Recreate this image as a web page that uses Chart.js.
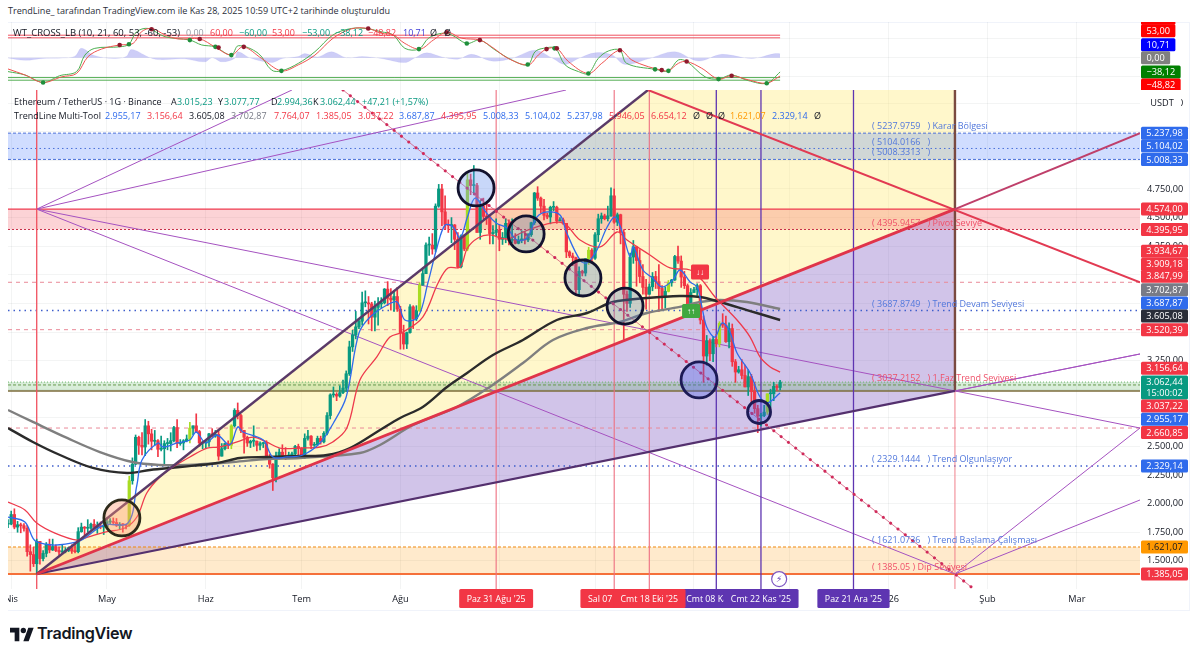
<!DOCTYPE html>
<html>
<head>
<meta charset="utf-8">
<title>ETH / USDT</title>
<script src="https://cdn.jsdelivr.net/npm/chart.js@4"></script>
<style>
    html, body { margin: 0; background: #fff; width: 1199px; height: 658px; overflow: hidden; }
    body { font-family: "Open Sans", sans-serif; color: #131722; }
    #oscChart, #priceChart { position: absolute; left: 8px; }
    #oscChart { top: 22px; }
    #priceChart { top: 90px; }
    .row { position: absolute; font-size: 9px; white-space: nowrap; line-height: 12px; }
    .row span { position: absolute; top: 0; }
    #title { left: 8px; top: 5px; font-size: 9.05px; color: #2a2e39; }
    #paneEdge { position: absolute; left: 8px; top: 22px; width: 1182px; height: 589px; border: solid #f0f3fa; border-width: 1px 1px 1px 0; box-sizing: border-box; }
    #logo { position: absolute; left: 10px; top: 625px; }
    #brand { position: absolute; left: 37px; top: 623px; font-family: Inter, sans-serif; font-size: 16.2px; font-weight: 600; color: #131722; letter-spacing: -0.3px; }
</style>
</head>
<body>
<div id="paneEdge"></div>
<canvas id="oscChart" width="1182" height="68"></canvas>
<canvas id="priceChart" width="1182" height="521"></canvas>
<div class="row" id="title">TrendLine_ tarafından TradingView.com ile Kas 28, 2025 10:59 UTC+2 tarihinde oluşturuldu</div>
<div class="row" id="oscLegend" style="top:27px;left:0"></div>
<div class="row" id="symbolLegend" style="top:96px;left:0"></div>
<div class="row" id="toolLegend" style="top:110px;left:0"></div>
<svg id="logo" width="24" height="19" viewBox="0 0 36 28"><path d="M14 24H7V11H0V4h14v20zM28 24h-8l7.5-20h8L28 24z" fill="#131722"/><circle cx="20" cy="8" r="4" fill="#131722"/></svg>
<div id="brand">TradingView</div>
<script>
// day number = days since 1 Jan 2025
const firstCandleDay = 89;
const candleOpen = [1820,
    1822,1905,1795,1816,1807,1785,1580,1555,1475,1670,1520,1565,1645,1595,1625,1590,1578,1585,1590,1615,1585,1580,1755,1795,1785,1785,1820,1795,1800,1795,
    1795,1840,1840,1835,1810,1820,1815,1810,2200,2345,2580,2510,2495,2680,2610,2545,2550,2475,2480,2525,2525,2550,2665,2525,2530,2550,2565,2660,2680,2630,2530,
    2530,2540,2610,2590,2605,2415,2480,2525,2510,2680,2815,2770,2640,2580,2530,2545,2545,2510,2525,2525,2410,2345,2225,2410,2450,2420,2410,2425,2435,2500,
    2485,2405,2570,2590,2510,2515,2570,2540,2615,2770,2950,2955,2940,2970,3010,3135,3370,3475,3545,3595,3755,3755,3745,3630,3715,3745,3755,3875,3795,3780,3810,
    3700,3490,3395,3495,3720,3615,3685,3910,4010,4260,4260,4225,4600,4750,4550,4440,4430,4435,4310,4070,4340,4225,4830,4780,4780,4370,4600,4510,4505,4360,4370,
    4390,4310,4325,4450,4300,4310,4275,4305,4310,4305,4350,4455,4715,4670,4600,4520,4505,4590,4590,4470,4480,4450,4200,4165,4150,3870,4030,4015,4140,4215,
    4145,4350,4490,4515,4490,4515,4690,4460,4525,4370,3830,3750,4155,4245,4125,3985,3890,3830,3895,3985,3940,3880,3810,3855,3930,3955,4160,4120,3980,3905,3705,
    3845,3870,3905,3605,3290,3425,3310,3435,3400,3575,3560,3415,3530,3240,3150,3170,3120,3020,3110,2980,2830,2765,2770,2800,2960,2960,3025,3015.23];
const candleHigh = [1860,
    1935,1955,1845,1830,1825,1810,1640,1620,1690,1670,1590,1660,1690,1690,1640,1620,1640,1615,1620,1640,1660,1790,1830,1800,1860,1830,1860,1840,1840,1835,
    1875,1870,1875,1870,1835,1825,1815,2240,2400,2600,2590,2620,2735,2720,2650,2640,2560,2590,2550,2570,2620,2675,2735,2560,2560,2600,2710,2680,2785,2640,2540,
    2550,2615,2655,2640,2640,2525,2530,2550,2690,2830,2880,2780,2640,2590,2555,2680,2550,2540,2535,2550,2430,2350,2450,2480,2515,2490,2450,2450,2510,2520,
    2490,2610,2640,2595,2535,2590,2590,2630,2795,2960,3020,2970,3030,3080,3160,3420,3515,3680,3610,3850,3860,3810,3760,3770,3800,3800,3880,3940,3880,3860,3890,
    3725,3560,3500,3740,3730,3730,3930,4060,4280,4330,4360,4620,4790,4790,4690,4480,4500,4440,4370,4350,4350,4890,4880,4955,4800,4650,4670,4630,4520,4430,4490,
    4440,4370,4490,4480,4490,4360,4340,4385,4380,4360,4460,4720,4770,4680,4660,4540,4600,4640,4600,4500,4495,4450,4210,4190,4155,4070,4040,4140,4240,4230,
    4370,4530,4540,4530,4600,4760,4750,4540,4530,4395,3860,4190,4300,4250,4220,4090,3960,3920,4020,4030,4090,3905,3895,3950,3960,4170,4250,4165,4030,3920,3880,
    3890,3920,3915,3640,3470,3440,3460,3480,3590,3660,3640,3580,3570,3260,3200,3260,3210,3170,3130,3060,2860,2790,2860,2960,3000,3060,3040,3077.77];
const candleLow = [1790,
    1815,1780,1750,1745,1760,1540,1410,1450,1385,1470,1500,1535,1570,1590,1580,1550,1570,1570,1580,1565,1570,1570,1750,1725,1750,1775,1790,1740,1780,1730,
    1790,1825,1815,1800,1780,1750,1780,1800,2170,2340,2430,2425,2420,2520,2470,2510,2410,2460,2340,2470,2460,2540,2490,2510,2470,2540,2530,2600,2620,2500,2480,
    2485,2500,2580,2580,2380,2415,2470,2480,2480,2670,2740,2620,2440,2500,2490,2500,2460,2470,2490,2400,2310,2115,2190,2390,2400,2385,2400,2415,2420,2420,
    2400,2395,2555,2480,2500,2510,2520,2530,2600,2740,2930,2900,2930,2960,2980,3120,3330,3440,3530,3560,3720,3570,3510,3510,3560,3710,3745,3730,3690,3680,3680,
    3350,3350,3355,3490,3530,3600,3680,3910,4010,4170,4180,4200,4590,4430,4400,4370,4280,4220,4060,4060,4210,4210,4700,4700,4370,4310,4490,4440,4270,4270,4340,
    4210,4265,4280,4260,4280,4270,4270,4280,4270,4290,4335,4440,4650,4540,4480,4490,4445,4560,4450,4470,4440,4150,4150,4080,3830,3820,3990,3990,4090,4110,
    4135,4290,4450,4480,4470,4510,4450,4430,4270,3435,3680,3715,4100,3900,3930,3830,3700,3830,3860,3880,3680,3700,3710,3850,3900,3950,4100,3890,3880,3680,3680,
    3845,3820,3570,3060,3210,3250,3240,3370,3370,3540,3410,3360,3200,3060,3140,3090,3020,2945,2880,2790,2620,2680,2760,2780,2840,2900,2990,2994.36];
const candleClose = [1822,
    1905,1795,1816,1807,1785,1580,1555,1475,1670,1520,1565,1645,1595,1625,1590,1578,1585,1590,1615,1585,1580,1755,1795,1785,1785,1820,1795,1800,1795,1795,
    1840,1840,1835,1810,1820,1815,1810,2200,2345,2580,2510,2495,2680,2610,2545,2550,2475,2480,2525,2525,2550,2665,2525,2530,2550,2565,2660,2680,2630,2530,2530,
    2540,2610,2590,2605,2415,2480,2525,2510,2680,2815,2770,2640,2580,2530,2545,2545,2510,2525,2525,2410,2345,2225,2410,2450,2420,2410,2425,2435,2500,2485,
    2405,2570,2590,2510,2515,2570,2540,2615,2770,2950,2955,2940,2970,3010,3135,3370,3475,3545,3595,3755,3755,3745,3630,3715,3745,3755,3875,3795,3780,3810,3700,
    3490,3395,3495,3720,3615,3685,3910,4010,4260,4260,4225,4600,4750,4550,4440,4430,4435,4310,4070,4340,4225,4830,4780,4780,4370,4600,4510,4505,4360,4370,4390,
    4310,4325,4450,4300,4310,4275,4305,4310,4305,4350,4455,4715,4670,4600,4520,4505,4590,4590,4470,4480,4450,4200,4165,4150,3870,4030,4015,4140,4215,4145,
    4350,4490,4515,4490,4515,4690,4460,4525,4370,3830,3750,4155,4245,4125,3985,3890,3830,3895,3985,3940,3880,3810,3855,3930,3955,4160,4120,3980,3905,3705,3845,
    3870,3905,3605,3290,3425,3310,3435,3400,3575,3560,3415,3530,3240,3150,3170,3120,3020,3110,2980,2830,2765,2770,2800,2960,2960,3025,3015,3062.44];
const limeCandleDays = [127, 146, 159, 218, 233, 271, 296, 312, 327];

const blueDays = [89,94.3,98,110.6,119,126.6,129.4,131,136,137.6,142,146,148,151,154.5,158.5,161,162.6,169,172,176.4,181.4,186.8,191,195,199,202.5,207.8,211,213.4,217.5,220.6,223.5,226,228.5,230.7,233,235.4,239,242,245.4,248.5,251.7,254.8,258,262,264,268.3,270.5,273.6,276.8,279.3,281.5,284,285,288,291,294,297.4,299.6,302.8,305,306.5,308,310.6,312.8,315,317.5,321.6,324.7,327,331];
const bluePrices = [1883,1840,1665,1665,1813,1831,2163,2381,2530,2495,2530,2556,2626,2530,2600,2513,2670,2626,2556,2408,2408,2425,2530,2705,2932,3491,3631,3736,3762,3605,3631,3928,4243,4435,4418,4322,4505,4671,4540,4453,4409,4304,4322,4505,4549,4523,4374,4129,4103,4217,4418,4505,4374,4156,4243,4042,3972,3893,3955,4042,3937,3893,3719,3544,3456,3579,3518,3317,3142,2932,2880,2967];
const redMaDays = [89,94.3,98,103.7,110.6,114,119.4,125.6,129.4,132.5,136.6,140.7,146,151.4,155.4,160.8,165.8,170,174.2,180.5,186.8,190.8,195.2,199.3,204.6,208.7,212.8,219,223.8,226.9,230.7,233,236.3,240,245.4,250.4,256.7,263,268.3,274.6,279.9,283,290.2,296.5,302.8,306.5,310.6,317.5,321.6,324.7,327.9,331];
const redMaPrices = [2014,1945,1831,1743,1682,1708,1752,1787,1883,2093,2233,2320,2408,2486,2495,2539,2582,2539,2486,2486,2495,2539,2661,3081,3282,3456,3500,3631,3928,4060,4068,4234,4322,4348,4313,4374,4435,4453,4304,4243,4374,4304,4173,4060,4042,3955,3806,3605,3456,3282,3194,3150];
const blackMaDays = [89,96.8,105.3,115.6,126.3,133.5,142.9,154.5,161.7,170.2,180.5,189,196.2,205.6,211.9,219,226.6,232.9,241,250.4,261,270.5,278.6,289.3,299.6,305.9,312.2,320.6,331];
const blackMaPrices = [2661,2539,2425,2312,2268,2294,2320,2355,2399,2408,2416,2425,2486,2644,2749,2845,3020,3142,3299,3430,3605,3666,3762,3797,3815,3806,3762,3692,3605];
const grayMaDays = [89,96.8,107.5,117.8,128,136.6,145,159.5,170.2,180.5,199.3,205.6,216,229.7,240,250.4,259.8,270.5,280.8,289.3,299.6,305.9,312.2,320.6,331];
const grayMaPrices = [2818,2714,2574,2451,2364,2338,2338,2364,2390,2399,2443,2513,2687,2845,3020,3229,3430,3535,3588,3666,3719,3762,3780,3762,3701];

const wtSlowDays = [89,94.3,100,105.8,110.5,114.1,118.3,124,128.2,130.8,134,138.2,142.3,149.1,153.8,159,162.7,168.5,174.7,180,185.2,190.9,196.7,201.9,206,209.7,213.4,218.1,222.3,226.5,231.2,236.9,240.6,245.8,252.1,255.2,257.8,261,264.6,270.9,275.1,280.8,284.5,289.7,293.9,296,299.1,301.7,306.4,311.7,315.8,321,326.8,331];
const wtSlowValues = [-30,-46,-66,-51,-42,3,23,34,38,69,78,61,50,50,29,7,29,-2,-35,-19,7,52,77,78,65,61,38,23,47,68,52,47,29,-2,-19,7,23,25,-10,-42,-15,20,-6,-24,-33,-35,-15,-10,-28,-57,-48,-59,-68,-48.82];
const wtFastDays = [89,94.3,100,105.2,110.5,113.1,116.2,124,126.9,129.3,132.9,138.2,146,149.7,153.8,159,161.2,167.4,171.6,174.7,180,185.2,190.9,196.7,201.9,206,209.7,213.4,217.8,220.8,224.9,228,232.8,236.9,241.6,246.9,251.9,254.2,256.8,260.5,263.6,267.8,270.9,274,277.2,280.8,282.9,291.8,296,299.1,301.7,307.5,311.7,315.8,321,326.8,331];
const wtFastValues = [-37,-46,-66,-48,-37,7,25,29,36,69,78,56,47,34,29,7,32,12,-33,-35,-15,16,61,78,77,69,61,25,23,52,65,61,38,47,21,-6,-19,16,25,25,-19,-37,-42,-2,18,20,-15,-31,-35,-6,-10,-51,-57,-46,-61,-68,-38.12];
const histDays = [89,94.3,100,106,110,112,116,122,126,127.7,133,136,143,144.4,150.7,153,156,160,161,165,171.6,175,180,182,186,190.4,195,200,206,213.4,216.6,220.2,225,230,234.3,240.6,246.9,254.2,259.4,263.6,267.8,273,278.2,282.4,289.7,298,305.4,312.7,322.1,329.4,331];
const histValues = [-1,-7,-2,-1,4,25,6,-2,3,22,2,-5,-3,-3,-11,0,-11,-2,16,-1,-13,-2,3,11,2,16,0,3,-2,-13,0,13,2,-4,9,-9,-2,20,0,-18,-2,13,8,-18,-3,16,-9,9,-2,11,10.71];
const oscLevels = [60, 53, -53, -60];
const crossUpDays = [100,126.9,146,154,159,174.7,217.8,232.8,251.9,260.3,270.9,291.8,296,311.7,326.8];
const crossUpValues = [-66,36,47,29,7,-35,23,38,-18,25,-42,-31,-35,-57,-68];
const crossDownDays = [124,134,149.1,155,162.9,201.9,226.5,236.9,257.8,261,280.8,293.9,301.7,315.8];
const crossDownValues = [34,76,50,27,29,78,68,47,23,25,20,-33,-10,-48];

// tick labels
const monthDays = [90,120,151,181,212,243,273,304,334,365,396,424];
const monthLabels = ["Nis","May","Haz","Tem","Ağu","Eyl","Eki","Kas","Ara","2026","Şub","Mar"];
const priceTicks = [5500,5250,5000,4750,4500,4250,4000,3750,3500,3250,3000,2750,2500,2250,2000,1750,1500];
const oscTicks = [-50,0,50];

// drawing tool levels
const blueZone = [5237.98, 5104.02, 5008.33];
const pivotZone = [4574, 4395.95];
const dashedLevels = [3934.67, 3520.39, 2660.85];
const dottedLevels = [3687.87, 2329.14];
const baseLevel = 2985;
const lastPrice = 3062.44;
const phaseLevel = 3037.22;
const dipLevel = 1385.05;
const startLevel = 1621.07;

const xLeft = 89, xRight = 443.8, yTop = 5615, yBottom = 1254;
const dipDay = 98, pivotDay = 385.8, topTouchDay = 289.6;

const redTimeDays = [242, 279, 290];
const purpleTimeDays = [311, 325, 354];
const dateTagDays = [242, 311, 279, 290, 325, 354];
const dateTagTexts = ["Paz 31 Ağu '25","Cmt 08 Kas '25","Sal 07 Eki '25","Cmt 18 Eki '25","Cmt 22 Kas '25","Paz 21 Ara '25"];
const dateTagColors = ["#f23645","#5e35b1","#f23645","#f23645","#5e35b1","#5e35b1"];

const circleDays = [124.7, 235.7, 251.4, 269.2, 282.4, 305.6, 324.4];
const circlePrices = [1875, 4759, 4357, 3972, 3727, 3081, 2801];
const circleSizes = [18, 18, 18, 18, 18, 18, 11.5];
const circleFills = ["rgba(255,150,110,.38)","rgba(110,150,240,.38)","rgba(80,110,170,.3)","rgba(90,120,190,.33)","rgba(90,120,190,.33)","rgba(70,90,230,.33)","rgba(70,90,230,.33)"];
const circleEdges = ["#2d2a1a","#12122e","#12122e","#12122e","#12122e","#1c1a55","#1c1a55"];

const noteValues = [5237.98, 5104.02, 5008.33, 4395.95, 3687.87, 3037.22, 2329.14, 1621.07, 1385.05];
const noteTexts = ["( 5237.9759   ) Karar Bölgesi","( 5104.0166   )","( 5008.3313   )","( 4395.9457   ) Pivot Seviye","( 3687.8749   ) Trend Devam Seviyesi","( 3037.2152   ) 1.Faz Trend Seviyesi","( 2329.1444   ) Trend Olgunlaşıyor","( 1621.0736   ) Trend Başlama Çalışması","( 1385.05 ) Dip Seviyesi"];
const noteColors = ["#5278dc","#5278dc","#5278dc","#ef5068","#5278dc","#ef5068","#5278dc","#5278dc","#ef5068"];

const priceTagValues = [5237.98,5104.02,5008.33,4574,4395.95,3934.67,3909.18,3847.99,3702.87,3687.87,3605.08,3520.39,3156.64,3062.44,3037.22,2955.17,2660.85,2329.14,1621.07,1385.05];
const priceTagColors = ["#2f6bec","#2f6bec","#2f6bec","#f23645","#f23645","#f23645","#f23645","#f23645","#787b86","#2f6bec","#2a2e39","#f23645","#f23645","#089981","#f23645","#2f6bec","#f23645","#2f6bec","#ff9800","#f23645"];
const priceTagNudges = [0,-2.5,0,0,0,-31,-21,-16,-19,-7.5,-4,0,-3,0,21,25,4.5,0,0,0];
const oscTagValues = [60,53,10.71,0,-38.12,-48.82];
const oscTagColors = ["#ff0000","#ff0000","#0000ff","#808080","#008000","#ff0000"];
const oscTagNudges = [-17,-7,-9,0,0,9];

const fontFace = '"Open Sans", sans-serif';
const fmt = (v) => {
    const [whole, dec] = Math.abs(v).toFixed(2).split(".");
    return (v < 0 ? "−" : "") + whole.replace(/\B(?=(\d{3})+$)/g, ".") + "," + dec;
};
const zip = (xs, ys) => xs.map((x, i) => ({ x, y: ys[i] }));
const lineSet = (points, color, width, extra = {}) => ({
    type: "line", data: points, borderColor: color, borderWidth: width,
    pointRadius: 0, tension: 0, fill: false, ...extra,
});
const level = (price, color, width, dash = [], fill = false, bg = "transparent") =>
    lineSet(zip([xLeft, xRight], [price, price]), color, width, { borderDash: dash, fill, backgroundColor: bg });
const seg = (x1, y1, x2, y2, color, width, extra = {}) => lineSet(zip([x1, x2], [y1, y2]), color, width, extra);

const drawTag = (ctx, x, y, w, h, color, text, textColor = "#fff") => {
    ctx.fillStyle = color;
    ctx.beginPath();
    ctx.roundRect(x, y - h / 2, w, h, 1.5);
    ctx.fill();
    ctx.fillStyle = textColor;
    ctx.textAlign = "center";
    ctx.textBaseline = "middle";
    ctx.fillText(text, x + w / 2, y + 0.5);
};

const candleDaysAll = candleOpen.map((_, i) => firstCandleDay + i);
const candleColors = candleDaysAll.map((day, i) =>
    limeCandleDays.includes(day) ? "#a8dc22" : candleClose[i] >= candleOpen[i] ? "#089981" : "#f23645");

const priceSets = [
    // shaded zones
    seg(dipDay, dipLevel, 0, 0, "transparent", 0, {
        data: zip([dipDay, topTouchDay, pivotDay], [dipLevel, yTop, yTop]),
        fill: "+1", backgroundColor: "rgba(255,235,130,.42)",
    }),
    seg(dipDay, dipLevel, pivotDay, pivotZone[0], "transparent", 0, { fill: "+1", backgroundColor: "rgba(103,58,183,.3)" }),
    seg(dipDay, dipLevel, pivotDay, baseLevel, "transparent", 0),
    level(blueZone[0], "#4a6fd8", 1, [3, 2], { value: blueZone[2] }, "rgba(41,98,255,.22)"),
    level(blueZone[1], "#4a6fd8", 1, [1.5, 3]),
    level(blueZone[2], "#4a6fd8", 1, [3, 2]),
    level(pivotZone[0], "#ef3b50", 1.3, [], { value: pivotZone[1] }, "rgba(242,54,69,.22)"),
    level(pivotZone[1], "#c8304a", 1, [2, 2]),
    level(lastPrice, "#6cb56c", 1, [1, 2], { value: baseLevel }, "rgba(76,175,80,.22)"),
    level(phaseLevel, "#6a9a50", 1, [3, 2]),
    level(baseLevel, "#7d6c3c", 1.6),
    level(startLevel, "#f08a10", 1, [3, 2], { value: dipLevel }, "rgba(255,152,0,.2)"),
    level(dipLevel, "#f5703a", 2.2),
    ...dashedLevels.map((p) => level(p, "#ea8a98", 1, [4, 4])),
    ...dottedLevels.map((p) => level(p, "#3f5fcc", 1.5, [1.5, 4])),
    // thin fan lines
    seg(dipDay, pivotZone[0], 178, yTop, "#a552c0", 1),
    seg(dipDay, pivotZone[0], 263.9, yTop, "#a552c0", 1),
    seg(dipDay, pivotZone[0], pivotDay, baseLevel, "#a552c0", 1),
    seg(pivotDay, baseLevel, xRight, 2660.85, "#a552c0", 1),
    seg(dipDay, pivotZone[0], pivotDay, dipLevel, "#a552c0", 1),
    seg(pivotDay, dipLevel, xRight, 2660.85, "#a552c0", 1),
    seg(pivotDay, dipLevel, xRight, 2032, "#a552c0", 1),
    seg(pivotDay, baseLevel, xRight, 3308, "#a552c0", 1),
    // time lines
    seg(dipDay, yBottom, dipDay, yTop, "#f0505f", 1.3),
    ...redTimeDays.map((d) => seg(d, yBottom, d, yTop, "#ee6f80", 1.1)),
    ...purpleTimeDays.map((d) => seg(d, yBottom, d, yTop, "#5e35b1", 1.3)),
    seg(pivotDay, yBottom, pivotDay, baseLevel, "#f0808c", 1),
    seg(pivotDay, baseLevel, pivotDay, yTop, "#7a4a40", 2.4),
    // candles
    {
        type: "bar", grouped: false, barThickness: 1, borderWidth: 0, borderSkipped: false,
        data: candleDaysAll.map((d, i) => ({ x: d, y: [candleLow[i], candleHigh[i]] })),
        backgroundColor: candleColors,
    },
    {
        type: "bar", grouped: false, barThickness: 2.6, borderWidth: 0, borderSkipped: false, minBarLength: 1,
        data: candleDaysAll.map((d, i) => ({ x: d, y: [candleOpen[i], candleClose[i]] })),
        backgroundColor: candleColors,
    },
    // moving averages
    lineSet(zip(grayMaDays, grayMaPrices), "#7f7f7f", 2.4, { tension: 0.35 }),
    lineSet(zip(blackMaDays, blackMaPrices), "#2b2b2b", 2.4, { tension: 0.35 }),
    lineSet(zip(redMaDays, redMaPrices), "#ee3a4c", 1.3, { tension: 0.35 }),
    lineSet(zip(blueDays, bluePrices), "#2f6bec", 1.3, { tension: 0.35 }),
    // trend lines
    seg(dipDay, dipLevel, topTouchDay, yTop, "#5a3a68", 2.4),
    seg(dipDay, dipLevel, pivotDay, baseLevel, "#54306e", 2.2),
    seg(pivotDay, baseLevel, xRight, 3308, "#a552c0", 1),
    seg(topTouchDay, yTop, xRight, 3934.67, "#e23a52", 2),
    seg(dipDay, dipLevel, pivotDay, pivotZone[0], "#e0344a", 2.8),
    seg(pivotDay, pivotZone[0], xRight, blueZone[0], "#bf3f6a", 2),
    seg(194, yTop, 390.9, 1272, "rgba(206,70,110,.7)", 1),
    seg(194, yTop, 390.9, 1272, "#d02a5a", 3, { borderDash: [0.01, 9.3], borderCapStyle: "round" }),
    // circled swings
    {
        type: "bubble",
        data: circleDays.map((d, i) => ({ x: d, y: circlePrices[i], r: circleSizes[i] })),
        backgroundColor: circleFills, borderColor: circleEdges, borderWidth: 2.8,
    },
];
priceSets.forEach((set, i) => { set.order = -i; });

const priceOverlay = {
    id: "priceOverlay",
    afterDraw(chart) {
        const { ctx, scales: { x, y }, chartArea } = chart;
        ctx.save();
        // level notes
        ctx.font = `9px ${fontFace}`;
        ctx.textAlign = "left";
        ctx.textBaseline = "middle";
        noteTexts.forEach((text, i) => {
            ctx.fillStyle = noteColors[i];
            ctx.fillText(text, x.getPixelForValue(359.8), y.getPixelForValue(noteValues[i]) - 6.5);
        });
        // buy and sell flags
        ctx.font = `bold 8px ${fontFace}`;
        drawTag(ctx, x.getPixelForValue(303.1) - 9, y.getPixelForValue(3684), 18, 14, "#3fa83f", "↑↑");
        drawTag(ctx, x.getPixelForValue(305.9) - 9, y.getPixelForValue(4025), 18, 15, "#f23645", "↓↓");
        // flash badge
        const fx = x.getPixelForValue(330.7), fy = y.getPixelForValue(1341);
        ctx.beginPath();
        ctx.arc(fx, fy, 7.5, 0, Math.PI * 2);
        ctx.fillStyle = "#fff";
        ctx.fill();
        ctx.strokeStyle = "#7e57c2";
        ctx.lineWidth = 1.2;
        ctx.stroke();
        ctx.fillStyle = "#5e35b1";
        ctx.font = '9px "DejaVu Sans"';
        ctx.textAlign = "center";
        ctx.fillText("⚡", fx, fy + 0.5);
        // time axis tags
        ctx.font = `8.8px ${fontFace}`;
        dateTagTexts.forEach((text, i) => {
            const w = ctx.measureText(text).width + 15;
            drawTag(ctx, x.getPixelForValue(dateTagDays[i]) - w / 2, chartArea.bottom + 9.5, w, 19, dateTagColors[i], text);
        });
        // price axis tags
        ctx.font = `9.2px ${fontFace}`;
        const tagX = chartArea.right + 1;
        drawTag(ctx, tagX + 2, y.getPixelForValue(5500), 38, 14, "#fff", "USDT", "#131722");
        priceTagValues.forEach((value, i) => {
            const py = y.getPixelForValue(value) + priceTagNudges[i];
            const dark = priceTagColors[i] === "#ff9800" ? "#131722" : "#fff";
            if (value === lastPrice) {
                drawTag(ctx, tagX, py + 5.5, 47, 24, priceTagColors[i], "", "#fff");
                ctx.fillStyle = "#fff";
                ctx.fillText("15:00:02", tagX + 23.5, py + 11);
            } else {
                drawTag(ctx, tagX, py, 47, 13, priceTagColors[i], "", dark);
            }
            ctx.fillStyle = dark;
            ctx.fillText(fmt(value), tagX + 23.5, py + 0.5);
        });
        ctx.restore();
    },
};

const oscOverlay = {
    id: "oscOverlay",
    afterDraw(chart) {
        const { ctx, scales: { y }, chartArea } = chart;
        ctx.save();
        ctx.font = `9.2px ${fontFace}`;
        oscTagValues.forEach((value, i) => {
            const label = fmt(value);
            const w = ctx.measureText(label).width + 11;
            drawTag(ctx, chartArea.right + 1, y.getPixelForValue(value) + oscTagNudges[i], w, 13, oscTagColors[i], label);
        });
        ctx.restore();
    },
};

const noPadding = (scale) => {
    scale.paddingLeft = 0;
    scale.paddingRight = 0;
    scale.paddingTop = 0;
    scale.paddingBottom = 0;
};
const monthAxis = (showLabels) => ({
    type: "linear", min: xLeft, max: xRight, offset: false, display: true,
    grid: { color: "rgba(42,46,57,.055)", offset: false, drawTicks: false },
    border: { display: false },
    afterBuildTicks: (scale) => { scale.ticks = monthDays.map((value) => ({ value })); },
    afterFit: (scale) => { scale.height = showLabels ? 22 : 0; noPadding(scale); },
    ticks: {
        display: showLabels, autoSkip: false, maxRotation: 0, padding: 5, color: "#131722",
        font: { family: "Open Sans", size: 9.2 },
        callback: (value) => monthLabels[monthDays.indexOf(value)],
    },
});
const valueAxis = (min, max, tickList, showLabels) => ({
    type: "linear", position: "right", min, max,
    grid: { color: "rgba(42,46,57,.055)", drawTicks: false },
    border: { display: false },
    afterBuildTicks: (scale) => { scale.ticks = tickList.map((value) => ({ value })); },
    afterFit: (scale) => { scale.width = 50; noPadding(scale); },
    ticks: {
        display: showLabels, padding: 7, color: "#131722",
        font: { family: "Open Sans", size: 9.2 },
        callback: (value) => fmt(value),
    },
});
const baseOptions = {
    responsive: false, animation: false, events: [],
    layout: { padding: 0, autoPadding: false },
    plugins: { legend: { display: false }, tooltip: { enabled: false } },
};

new Chart(document.getElementById("priceChart").getContext("2d"), {
    type: "bar",
    data: { datasets: priceSets },
    options: {
        ...baseOptions,
        scales: { x: monthAxis(true), y: valueAxis(yBottom, yTop, priceTicks, true) },
    },
    plugins: [priceOverlay],
});

const oscSets = [
    lineSet(zip(histDays, histValues), "rgba(90,90,230,.15)", 0.5, { tension: 0.35, fill: { value: 0 }, backgroundColor: "rgba(90,90,230,.3)" }),
    ...oscLevels.map((v) => lineSet(zip([firstCandleDay, 331], [v, v]), v > 0 ? "#f0505f" : "#54ae54", 1)),
    lineSet(zip(wtFastDays, wtFastValues), "#4caf50", 1, { tension: 0.35 }),
    lineSet(zip(wtSlowDays, wtSlowValues), "#ef5350", 1, { tension: 0.35 }),
    lineSet(zip(crossUpDays, crossUpValues), "transparent", 0, { showLine: false, pointRadius: 2.3, pointBackgroundColor: "#1f8f3c" }),
    lineSet(zip(crossDownDays, crossDownValues), "transparent", 0, { showLine: false, pointRadius: 2.3, pointBackgroundColor: "#8f1a2e" }),
];
oscSets.forEach((set, i) => { set.order = -i; });

new Chart(document.getElementById("oscChart").getContext("2d"), {
    type: "line",
    data: { datasets: oscSets },
    options: {
        ...baseOptions,
        scales: { x: monthAxis(false), y: valueAxis(-86.1, 95.2, oscTicks, false) },
    },
    plugins: [oscOverlay],
});

// legend rows
const legendRow = (id, items) => {
    const row = document.getElementById(id);
    items.forEach(([left, text, color, size]) => {
        const span = document.createElement("span");
        span.style.left = left + "px";
        span.style.color = color;
        if (size) span.style.fontSize = size + "px";
        span.textContent = text;
        row.appendChild(span);
    });
};
legendRow("oscLegend", [
    [13, "WT_CROSS_LB (10, 21, 60, 53, -60, -53)", "#131722", 9.5], [186, "0,00", "#9598a1"], [210, "60,00", "#f23645"],
    [239, "−60,00", "#089981"], [272, "53,00", "#f23645"], [302, "−53,00", "#089981"], [335, "−38,12", "#089981"],
    [368, "−48,82", "#f23645"], [403, "10,71", "#3d3dd8"], [430, "Ø", "#131722"], [444, "Ø", "#131722"],
]);
legendRow("symbolLegend", [
    [14, "Ethereum / TetherUS · 1G · Binance", "#131722"], [171, "A", "#131722"], [177, "3.015,23", "#089981"],
    [218, "Y", "#131722"], [224, "3.077,77", "#089981"], [271, "D", "#131722"], [277, "2.994,36", "#089981"],
    [313, "K", "#131722"], [320, "3.062,44", "#089981"], [362, "+47,21 (+1,57%)", "#089981"],
]);
legendRow("toolLegend", [
    [14, "TrendLine Multi-Tool", "#131722"], [105, "2.955,17", "#2f6bec"], [147, "3.156,64", "#f23645"],
    [189, "3.605,08", "#131722"], [231, "3.702,87", "#787b86"], [274, "7.764,07", "#f23645"], [316, "1.385,05", "#f23645"],
    [358, "3.037,22", "#f23645"], [399, "3.687,87", "#2f6bec"], [441, "4.395,95", "#f23645"], [483, "5.008,33", "#2f6bec"],
    [525, "5.104,02", "#2f6bec"], [567, "5.237,98", "#2f6bec"], [609, "5.946,05", "#f23645"], [651, "6.654,12", "#f23645"],
    [693, "Ø", "#131722"], [706, "Ø", "#131722"], [718, "Ø", "#131722"], [730, "1.621,07", "#ff9800"],
    [772, "2.329,14", "#2f6bec"], [814, "Ø", "#131722"],
]);
</script>
</body>
</html>
